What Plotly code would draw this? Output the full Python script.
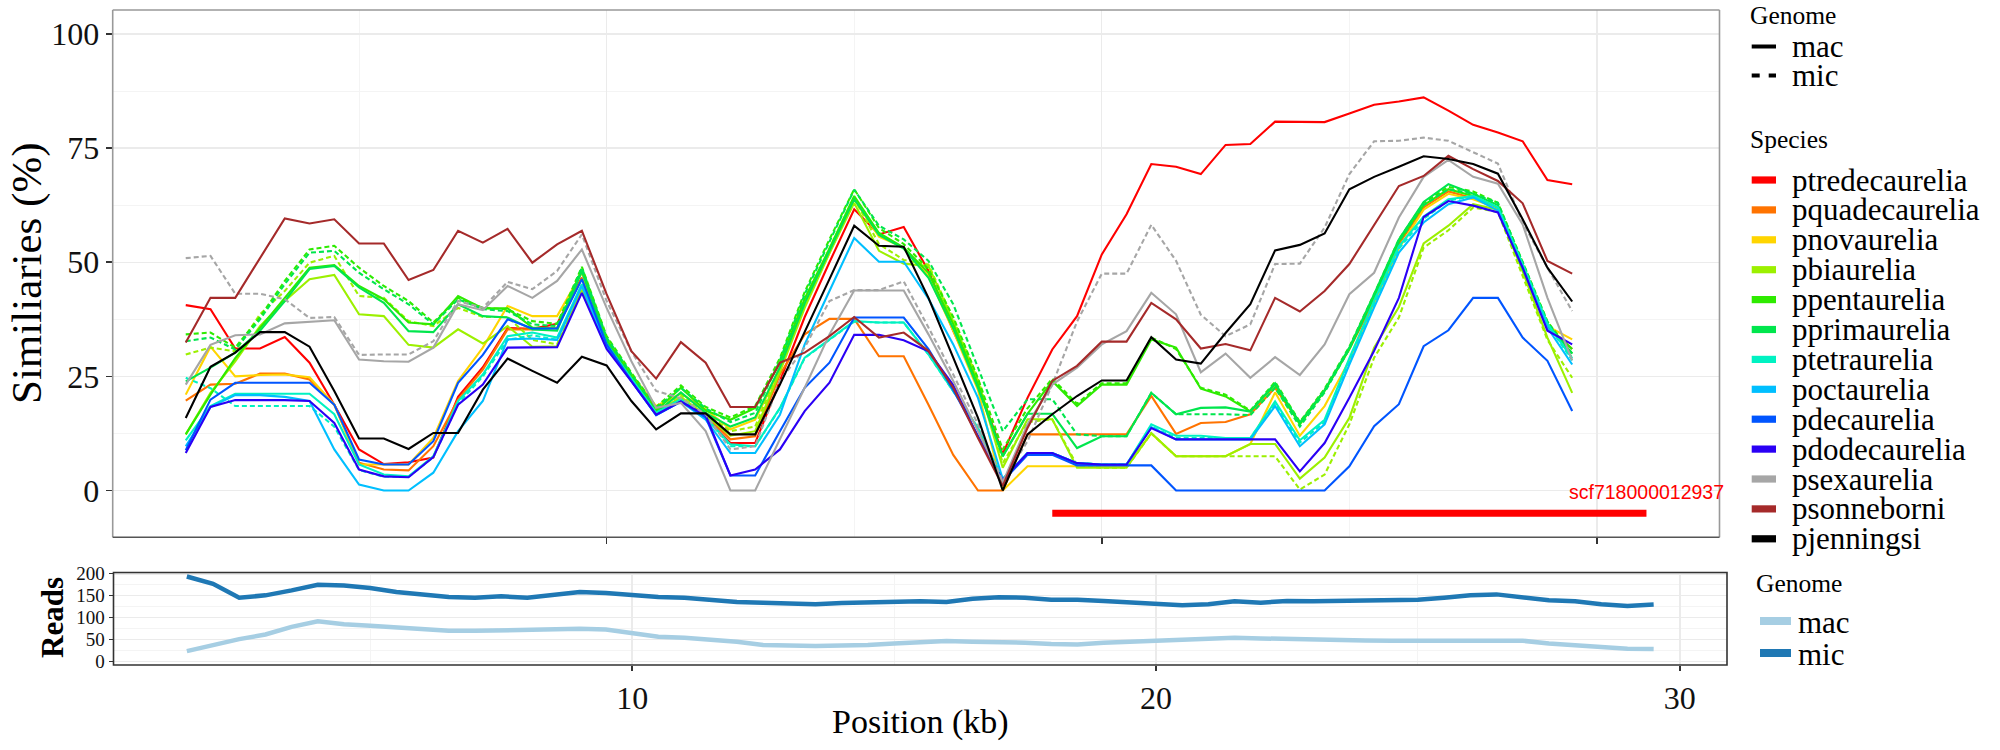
import plotly.graph_objects as go

W, H = 2000, 750
SERIF = "Liberation Serif"
SANS = "Liberation Sans"

# ---------------- data ----------------
position_kb = [1.5, 2, 2.5, 3, 3.5, 4, 4.5, 5, 5.5, 6, 6.5, 7, 7.5, 8, 8.5, 9, 9.5, 10, 10.5,
               11, 11.5, 12, 12.5, 13, 13.5, 14, 14.5, 15, 15.5, 16, 16.5, 17, 17.5, 18, 18.5,
               19, 19.5, 20, 20.5, 21, 21.5, 22, 22.5, 23, 23.5, 24, 24.5, 25, 25.5, 26, 26.5,
               27, 27.5, 28, 28.5, 29, 29.5]

species = ["ptredecaurelia", "pquadecaurelia", "pnovaurelia", "pbiaurelia", "ppentaurelia",
           "pprimaurelia", "ptetraurelia", "poctaurelia", "pdecaurelia", "pdodecaurelia",
           "psexaurelia", "psonneborni", "pjenningsi"]

species_colors = ["#FF0000", "#FF7300", "#FFD500", "#9CF000", "#2EEB00",
                  "#00E64D", "#00F2C2", "#00BFFF", "#0055FF", "#2A00F5",
                  "#A6A6A6", "#A52A2A", "#000000"]

ptredecaurelia_mac = [40.6, 39.7, 31.1, 31.1, 33.6, 28.0, 18.8, 9.0, 5.8, 6.2,
                      7.2, 20.5, 27.0, 35.6, 35.4, 36.5, 46.6, 32.7, 25.4, 17.8,
                      19.6, 15.9, 10.4, 10.4, 24.0, 38.0, 50.0, 61.6, 56.1, 57.7,
                      48.1, 35.0, 23.2, 8.0, 20.3, 30.9, 38.2, 51.7, 60.5, 71.5,
                      70.9, 69.3, 75.7, 75.9, 80.8, 80.8, 80.7, 82.6, 84.5, 85.2,
                      86.1, 83.2, 80.1, 78.4, 76.5, 68.0, 67.1]
pquadecaurelia_mac = [19.7, 23.2, 23.4, 25.6, 25.6, 24.3, 18.8, 6.1, 4.6, 4.4,
                      9.7, 19.9, 26.5, 35.3, 35.3, 35.6, 46.5, 32.5, 25.0, 17.5,
                      20.0, 16.5, 11.2, 11.9, 25.4, 34.2, 37.6, 37.6, 29.4, 29.4,
                      18.8, 7.8, 0.0, 0.0, 12.3, 12.3, 12.3, 12.3, 12.3, 20.7,
                      12.4, 14.8, 15.0, 16.7, 22.5, 14.8, 22.0, 31.0, 41.5, 54.0,
                      62.0, 65.5, 64.0, 62.0, 48.5, 36.0, 31.0]
pnovaurelia_mac = [21.0, 31.5, 25.0, 25.3, 25.4, 24.8, 18.8, 5.7, 5.7, 5.7,
                   11.5, 24.0, 31.3, 40.4, 38.2, 38.2, 47.7, 33.0, 25.5, 18.5,
                   21.2, 17.8, 13.4, 15.5, 26.5, 41.0, 52.0, 63.8, 55.6, 53.2,
                   47.0, 35.0, 22.0, 0.0, 5.3, 5.3, 5.3, 5.3, 5.3, 12.5,
                   7.5, 7.5, 7.5, 10.2, 21.5, 12.0, 18.5, 28.5, 41.0, 53.0,
                   61.5, 65.0, 63.8, 61.8, 48.5, 36.0, 33.1]
pbiaurelia_mac = [12.3, 21.4, 28.3, 36.0, 41.5, 46.3, 47.2, 38.6, 38.2, 31.9,
                  31.3, 35.3, 32.2, 36.0, 31.5, 31.6, 44.0, 32.0, 24.5, 17.0,
                  20.5, 16.5, 12.0, 13.0, 26.0, 40.0, 52.0, 63.0, 52.5, 49.7,
                  49.2, 37.0, 24.0, 5.0, 15.6, 15.6, 5.0, 5.0, 5.0, 12.6,
                  7.5, 7.5, 7.5, 10.2, 10.2, 2.6, 7.2, 15.9, 31.3, 40.2,
                  54.1, 58.0, 62.7, 61.5, 48.0, 33.5, 21.4]
ppentaurelia_mac = [12.3, 21.0, 29.0, 35.7, 42.2, 48.8, 49.4, 44.8, 41.9, 36.8,
                    36.4, 42.6, 39.9, 39.9, 35.7, 35.5, 48.5, 33.0, 25.0, 17.5,
                    22.5, 17.5, 15.5, 18.1, 28.0, 42.0, 53.0, 64.5, 56.4, 53.2,
                    47.7, 36.4, 23.2, 7.5, 16.8, 24.0, 18.5, 23.2, 23.2, 33.1,
                    31.3, 22.3, 20.6, 17.3, 23.2, 14.5, 21.8, 31.0, 42.5, 54.5,
                    62.5, 66.0, 64.5, 62.0, 48.5, 36.0, 31.0]
pprimaurelia_mac = [23.9, 26.9, 30.2, 35.0, 41.5, 48.5, 49.2, 44.5, 41.1, 34.9,
                    34.7, 40.8, 38.2, 37.9, 35.3, 35.0, 48.0, 32.5, 24.5, 17.0,
                    21.5, 17.0, 14.0, 16.0, 27.0, 41.0, 52.5, 63.8, 56.0, 53.0,
                    46.6, 35.5, 22.5, 7.5, 16.8, 16.8, 9.3, 11.9, 11.9, 21.4,
                    16.7, 18.1, 18.2, 17.3, 23.5, 14.8, 22.0, 31.3, 43.0, 55.0,
                    63.2, 67.1, 65.0, 62.5, 49.0, 36.5, 30.0]
ptetraurelia_mac = [11.0, 18.5, 21.2, 21.2, 21.2, 21.2, 16.7, 5.7, 3.5, 3.1,
                    7.5, 19.6, 25.4, 33.8, 34.6, 33.5, 45.2, 32.0, 24.5, 17.0,
                    20.0, 16.0, 10.1, 9.7, 18.1, 29.1, 33.1, 37.1, 36.8, 36.8,
                    29.8, 21.8, 13.7, 2.5, 8.2, 8.2, 6.0, 5.7, 5.7, 14.5,
                    12.0, 12.0, 11.5, 11.5, 19.5, 11.0, 15.5, 29.0, 41.5, 53.5,
                    60.0, 63.8, 64.5, 62.0, 49.5, 36.5, 29.0]
poctaurelia_mac = [9.7, 18.3, 20.9, 20.9, 20.5, 19.6, 9.0, 1.3, 0.0, 0.0,
                   3.9, 13.0, 19.6, 33.1, 33.3, 33.0, 44.8, 31.5, 24.0, 16.5,
                   19.5, 15.5, 8.2, 8.2, 16.6, 32.0, 43.7, 55.3, 50.1, 50.1,
                   42.0, 32.0, 20.3, 2.5, 8.2, 8.2, 6.0, 5.7, 5.7, 13.9,
                   11.2, 11.2, 11.2, 11.2, 18.5, 9.7, 14.5, 27.6, 40.1, 52.1,
                   58.7, 62.7, 64.2, 61.3, 48.8, 35.7, 27.6]
pdecaurelia_mac = [8.8, 19.9, 23.6, 23.6, 23.6, 23.6, 18.8, 6.8, 5.7, 5.7,
                   10.8, 23.6, 29.7, 37.5, 35.5, 35.5, 46.3, 32.0, 24.0, 16.5,
                   19.5, 16.0, 3.3, 3.3, 13.0, 22.5, 28.0, 37.9, 37.9, 37.9,
                   31.0, 22.0, 12.0, 2.0, 7.8, 7.8, 5.5, 5.5, 5.5, 5.5,
                   0.0, 0.0, 0.0, 0.0, 0.0, 0.0, 0.0, 5.3, 14.1, 18.9,
                   31.6, 35.1, 42.2, 42.2, 33.5, 28.4, 17.4]
pdodecaurelia_mac = [8.2, 18.3, 19.8, 19.8, 19.8, 19.6, 14.8, 4.6, 3.1, 2.9,
                     7.3, 18.8, 23.2, 31.3, 31.3, 31.4, 43.3, 31.0, 23.9, 16.6,
                     19.5, 16.5, 3.3, 4.6, 9.0, 17.4, 23.6, 34.1, 34.1, 32.9,
                     30.5, 23.1, 11.7, 2.3, 8.2, 8.2, 6.0, 5.7, 5.7, 13.7,
                     11.2, 11.2, 11.2, 11.2, 11.2, 4.2, 10.4, 20.3, 30.6, 42.2,
                     59.9, 63.4, 62.4, 60.9, 48.8, 35.0, 32.0]
psexaurelia_mac = [23.2, 31.9, 34.0, 34.2, 36.6, 36.9, 37.3, 28.7, 28.3, 28.2,
                   31.3, 40.8, 39.5, 44.8, 42.2, 45.9, 52.8, 40.0, 28.3, 18.1,
                   19.2, 13.0, 0.0, 0.0, 11.2, 22.5, 34.2, 43.8, 43.8, 43.8,
                   34.2, 24.0, 13.0, 1.7, 14.5, 23.2, 26.9, 32.0, 34.9, 43.3,
                   38.6, 25.9, 30.0, 24.7, 29.2, 25.3, 32.0, 43.0, 47.7, 59.8,
                   68.7, 72.4, 68.7, 67.2, 58.3, 42.2, 28.5]
psonneborni_mac = [32.4, 42.2, 42.2, 51.0, 59.6, 58.5, 59.4, 54.1, 54.1, 46.1,
                   48.3, 56.9, 54.3, 57.3, 49.9, 53.9, 56.9, 43.0, 30.5, 24.5,
                   32.5, 28.0, 18.3, 18.3, 28.0, 30.2, 33.8, 38.0, 33.5, 34.6,
                   30.6, 22.5, 11.5, 1.0, 13.7, 24.0, 27.3, 32.6, 32.6, 41.1,
                   37.5, 31.1, 32.1, 30.7, 42.2, 39.2, 43.7, 49.6, 58.0, 66.7,
                   68.9, 73.3, 70.4, 67.8, 62.9, 50.3, 47.5]
pjenningsi_mac = [15.9, 27.1, 30.2, 34.7, 34.7, 31.5, 21.8, 11.4, 11.4, 9.1,
                  12.6, 12.6, 22.1, 28.9, 26.2, 23.6, 29.3, 27.4, 19.6, 13.4,
                  16.9, 16.9, 12.3, 12.3, 23.2, 34.6, 46.3, 58.0, 53.6, 53.4,
                  42.2, 29.1, 15.9, 0.0, 12.3, 16.7, 20.7, 24.1, 24.1, 33.6,
                  28.7, 27.8, 34.5, 40.8, 52.6, 53.8, 56.3, 66.0, 68.7, 70.9,
                  73.2, 72.6, 71.5, 69.4, 59.4, 48.8, 41.4]

# micronuclear (dashed) series
pbiaurelia_mic = [29.8, 31.3, 30.5, 38.6, 43.7, 49.9, 51.4, 42.6, 42.2, 37.1,
                  36.0, 40.0, 38.0, 38.0, 33.0, 32.0, 45.0, 32.5, 25.0, 17.5,
                  21.0, 17.0, 13.0, 14.0, 27.0, 41.0, 53.0, 64.0, 54.0, 50.5,
                  49.5, 37.5, 24.5, 6.0, 15.0, 15.6, 5.5, 5.0, 5.0, 12.5,
                  7.5, 7.5, 7.5, 7.5, 7.5, 0.2, 3.5, 14.5, 29.1, 37.9,
                  53.2, 57.0, 62.0, 61.0, 47.0, 33.0, 24.7]
ppentaurelia_mic = [34.2, 34.6, 31.3, 38.0, 45.9, 52.8, 53.6, 48.8, 44.8, 41.5,
                    36.8, 42.2, 40.0, 39.7, 37.1, 36.5, 49.0, 33.8, 25.8, 18.3,
                    23.0, 18.3, 16.0, 18.5, 29.0, 43.5, 55.0, 66.0, 57.5, 54.0,
                    48.5, 38.0, 24.5, 9.0, 18.0, 24.5, 19.0, 23.5, 23.5, 33.5,
                    31.0, 22.5, 21.0, 17.5, 23.8, 15.0, 22.3, 31.5, 43.0, 55.0,
                    63.0, 66.5, 65.5, 63.0, 50.0, 37.0, 30.0]
pprimaurelia_mic = [32.7, 33.5, 30.9, 37.5, 45.2, 52.1, 52.5, 47.7, 44.1, 40.8,
                    36.4, 41.9, 39.7, 39.3, 36.4, 36.0, 48.8, 33.5, 25.5, 18.0,
                    22.5, 18.0, 15.0, 17.0, 28.5, 43.0, 54.5, 65.9, 58.0, 55.0,
                    50.3, 40.8, 26.9, 13.0, 20.0, 20.0, 12.3, 11.9, 11.9, 21.4,
                    16.7, 16.7, 16.7, 16.5, 22.5, 14.0, 21.5, 31.0, 42.5, 54.5,
                    62.5, 66.0, 65.0, 63.0, 50.0, 37.0, 29.0]
ptetraurelia_mic = [24.7, 22.4, 18.5, 18.5, 18.5, 18.5, 14.0, 4.5, 3.0, 3.0,
                    7.3, 19.0, 25.0, 33.0, 34.0, 33.0, 45.0, 32.0, 24.5, 17.0,
                    20.0, 16.0, 9.7, 9.7, 18.0, 29.0, 33.0, 37.0, 36.8, 36.8,
                    29.8, 21.8, 13.7, 2.5, 8.2, 8.2, 6.0, 5.7, 5.7, 14.0,
                    11.5, 11.5, 11.5, 11.5, 19.0, 10.5, 15.0, 28.5, 41.0, 53.0,
                    59.5, 63.5, 64.5, 62.0, 49.5, 36.5, 28.5]
psexaurelia_mic = [50.9, 51.4, 43.1, 43.1, 41.9, 37.8, 38.0, 29.7, 29.8, 29.8,
                   32.7, 41.5, 40.0, 45.7, 44.1, 48.1, 56.1, 41.5, 30.5, 21.8,
                   20.2, 16.7, 9.0, 9.7, 24.0, 31.3, 41.5, 43.9, 43.9, 45.8,
                   35.7, 25.4, 14.5, 2.0, 10.8, 23.2, 37.0, 47.5, 47.5, 58.2,
                   50.3, 38.5, 33.8, 36.4, 49.6, 49.7, 57.6, 69.3, 76.5, 76.6,
                   77.3, 76.6, 74.1, 71.6, 58.7, 48.8, 39.3]

# contig bar
contig_label = "scf718000012937"
contig_start_kb = 19.0
contig_end_kb = 31.0
contig_y = -5

# read depth panel
reads_mac = [24.2, 37.8, 51.4, 61.9, 79.3, 92.1, 85.3, 81.6, 77.8, 74.1,
             70.3, 70.3, 71.8, 71.8, 73.3, 74.8, 73.3, 65.8, 56.7, 54.5,
             50.7, 45.4, 37.8, 35.6, 35.6, 37.1, 37.8, 41.6, 45.4, 46.9,
             45.4, 44.5, 43.2, 40.1, 39.4, 43.2, 45.4, 47.7, 50.7, 52.2,
             54.5, 53.0, 51.4, 49.2, 49.2, 48.4, 47.7, 47.7, 49.2, 49.2,
             48.4, 47.7, 41.6, 37.1, 32.5, 29.5, 28.7]
reads_mic = [193.9, 177.3, 145.6, 151.0, 162.3, 175.1, 173.6, 167.6, 158.5, 152.5,
             147.2, 145.6, 148.7, 145.6, 151.0, 158.5, 156.2, 151.0, 147.2, 145.6,
             141.2, 135.9, 134.4, 132.1, 130.6, 133.6, 135.1, 136.6, 137.4, 135.9,
             143.4, 146.5, 145.6, 141.2, 141.2, 138.2, 135.1, 132.1, 128.4, 130.6,
             137.4, 134.4, 138.2, 137.4, 138.2, 141.2, 139.7, 141.2, 145.6, 151.0,
             153.2, 147.2, 139.7, 137.4, 130.6, 126.9, 129.9]
reads_genomes = ["mac", "mic"]
reads_colors = ["#A6CEE3", "#1F78B4"]

mac_series = [ptredecaurelia_mac, pquadecaurelia_mac, pnovaurelia_mac, pbiaurelia_mac,
              ppentaurelia_mac, pprimaurelia_mac, ptetraurelia_mac, poctaurelia_mac,
              pdecaurelia_mac, pdodecaurelia_mac, psexaurelia_mac, psonneborni_mac,
              pjenningsi_mac]
mic_series = {"pbiaurelia": pbiaurelia_mic, "ppentaurelia": ppentaurelia_mic,
              "pprimaurelia": pprimaurelia_mic, "ptetraurelia": ptetraurelia_mic,
              "psexaurelia": psexaurelia_mic}

# ---------------- geometry (pixels) ----------------
TOP_L, TOP_R, TOP_T, TOP_B = 112.7, 1719.5, 10.0, 537.3
BOT_L, BOT_R, BOT_T, BOT_B = 113.5, 1727.0, 572.5, 665.0


def fx(p):
    return p / W


def fy(p):
    return 1 - p / H


fig = go.Figure()

# top panel lines
for sp, col, vals in zip(species, species_colors, mac_series):
    if sp in mic_series:
        fig.add_trace(go.Scatter(x=position_kb, y=mic_series[sp], mode="lines",
                                 line=dict(color=col, width=2.1, dash="5px,3px"),
                                 xaxis="x", yaxis="y", hoverinfo="skip", showlegend=False))
    fig.add_trace(go.Scatter(x=position_kb, y=vals, mode="lines",
                             line=dict(color=col, width=2.1),
                             xaxis="x", yaxis="y", hoverinfo="skip", showlegend=False))

# contig bar
fig.add_trace(go.Scatter(x=[contig_start_kb, contig_end_kb], y=[contig_y, contig_y], mode="lines",
                         line=dict(color="#FF0000", width=7), xaxis="x", yaxis="y",
                         hoverinfo="skip", showlegend=False))

# reads panel
for g, col, vals in zip(reads_genomes, reads_colors, [reads_mac, reads_mic]):
    fig.add_trace(go.Scatter(x=position_kb, y=vals, mode="lines",
                             line=dict(color=col, width=4.5), xaxis="x2", yaxis="y2",
                             hoverinfo="skip", showlegend=False))

grid_major = "#EBEBEB"
grid_minor = "#F4F4F4"

fig.update_layout(
    template="none",
    width=W, height=H,
    margin=dict(l=0, r=0, t=0, b=0, pad=0, autoexpand=False),
    paper_bgcolor="white", plot_bgcolor="white",
    showlegend=False,
    xaxis=dict(domain=[fx(TOP_L), fx(TOP_R)], range=[0.025, 32.475], anchor="y",
               automargin=False,
               tickmode="array", tickvals=[10, 20, 30], showticklabels=False,
               ticks="outside", ticklen=6, tickwidth=1.5, tickcolor="#333333",
               showgrid=True, gridcolor=grid_major, gridwidth=1.4, zeroline=False,
               showline=False,
               minor=dict(tickmode="array", tickvals=[5, 15, 25], showgrid=True,
                          gridcolor=grid_minor, gridwidth=1, ticks="")),
    yaxis=dict(domain=[fy(TOP_B), fy(TOP_T)], range=[-10.25, 105.25], anchor="x",
               automargin=False,
               tickmode="array", tickvals=[0, 25, 50, 75, 100],
               ticktext=["0", "25", "50", "75", "100"],
               ticks="outside", ticklen=6, tickwidth=1.5, tickcolor="#333333",
               tickfont=dict(family=SERIF, size=32, color="#111111"),
               showgrid=True, gridcolor=grid_major, gridwidth=1.4, zeroline=False,
               showline=False,
               minor=dict(tickmode="array", tickvals=[12.5, 37.5, 62.5, 87.5], showgrid=True,
                          gridcolor=grid_minor, gridwidth=1, ticks="")),
    xaxis2=dict(domain=[fx(BOT_L), fx(BOT_R)], range=[0.1, 30.9], anchor="y2",
                automargin=False,
                tickmode="array", tickvals=[10, 20, 30], ticktext=["10", "20", "30"],
                ticks="outside", ticklen=5, tickwidth=1.5, tickcolor="#333333",
                tickfont=dict(family=SERIF, size=32, color="#111111"),
                showgrid=True, gridcolor=grid_major, gridwidth=1.4, zeroline=False,
                showline=False,
                minor=dict(tickmode="array", tickvals=[5, 15, 25], showgrid=True,
                           gridcolor=grid_minor, gridwidth=1, ticks="")),
    yaxis2=dict(domain=[fy(BOT_B), fy(BOT_T)], range=[-7.5, 203], anchor="x2",
                automargin=False,
                tickmode="array", tickvals=[0, 50, 100, 150, 200],
                ticktext=["0", "50", "100", "150", "200"],
                ticks="outside", ticklen=4, tickwidth=1.2, tickcolor="#333333",
                tickfont=dict(family=SERIF, size=19, color="#111111"),
                showgrid=True, gridcolor=grid_major, gridwidth=1.4, zeroline=False,
                showline=False,
                minor=dict(tickmode="array", tickvals=[25, 75, 125, 175], showgrid=True,
                           gridcolor=grid_minor, gridwidth=1, ticks="")),
)

shapes = []
# top panel border
shapes.append(dict(type="line", xref="paper", yref="paper", x0=fx(TOP_L), x1=fx(TOP_R),
                   y0=fy(TOP_T), y1=fy(TOP_T), line=dict(color="#999999", width=1.6), layer="above"))
shapes.append(dict(type="line", xref="paper", yref="paper", x0=fx(TOP_L), x1=fx(TOP_L),
                   y0=fy(TOP_T), y1=fy(TOP_B), line=dict(color="#999999", width=1.6), layer="above"))
shapes.append(dict(type="line", xref="paper", yref="paper", x0=fx(TOP_R), x1=fx(TOP_R),
                   y0=fy(TOP_T), y1=fy(TOP_B), line=dict(color="#999999", width=1.6), layer="above"))
shapes.append(dict(type="line", xref="paper", yref="paper", x0=fx(TOP_L), x1=fx(TOP_R),
                   y0=fy(TOP_B), y1=fy(TOP_B), line=dict(color="#555555", width=1.6), layer="above"))
# bottom panel border
shapes.append(dict(type="rect", xref="paper", yref="paper", x0=fx(BOT_L), x1=fx(BOT_R),
                   y0=fy(BOT_B), y1=fy(BOT_T), line=dict(color="#333333", width=1.6),
                   fillcolor="rgba(0,0,0,0)", layer="above"))

annotations = []
# axis titles
annotations.append(dict(text="Similiaries (%)", xref="paper", yref="paper", x=fx(27), y=fy(273),
                        textangle=-90, showarrow=False, xanchor="center", yanchor="middle",
                        font=dict(family=SERIF, size=43, color="#000000")))
annotations.append(dict(text="<b>Reads</b>", xref="paper", yref="paper", x=fx(52), y=fy(618),
                        textangle=-90, showarrow=False, xanchor="center", yanchor="middle",
                        font=dict(family=SERIF, size=31, color="#000000")))
annotations.append(dict(text="Position (kb)", xref="paper", yref="paper", x=fx(920), y=fy(722),
                        showarrow=False, xanchor="center", yanchor="middle",
                        font=dict(family=SERIF, size=34, color="#000000")))
# contig label
annotations.append(dict(text=contig_label, xref="x", yref="y", x=contig_end_kb, y=-0.4,
                        showarrow=False, xanchor="center", yanchor="middle",
                        font=dict(family=SANS, size=19.5, color="#FF0000")))

# ---- legend: Genome (linetype) ----
KEY_X0, KEY_X1, LAB_X = 1751.7, 1776.0, 1790.0
annotations.append(dict(text="Genome", xref="paper", yref="paper", x=fx(1748), y=fy(16),
                        showarrow=False, xanchor="left", yanchor="middle",
                        font=dict(family=SERIF, size=25.5, color="#000000")))
genome_keys = [("mac", 46.5, None), ("mic", 75.5, "8px,9px")]
for lab, yy, dash in genome_keys:
    shapes.append(dict(type="line", xref="paper", yref="paper", x0=fx(KEY_X0), x1=fx(KEY_X1),
                       y0=fy(yy), y1=fy(yy), line=dict(color="#000000", width=4, dash=dash or "solid")))
    annotations.append(dict(text=lab, xref="paper", yref="paper", x=fx(LAB_X), y=fy(yy),
                            showarrow=False, xanchor="left", yanchor="middle",
                            font=dict(family=SERIF, size=31, color="#000000")))

# ---- legend: Species (colour) ----
annotations.append(dict(text="Species", xref="paper", yref="paper", x=fx(1748), y=fy(140),
                        showarrow=False, xanchor="left", yanchor="middle",
                        font=dict(family=SERIF, size=25.5, color="#000000")))
for i, (sp, col) in enumerate(zip(species, species_colors)):
    yy = 180 + 29.9 * i
    shapes.append(dict(type="rect", xref="paper", yref="paper", x0=fx(KEY_X0), x1=fx(KEY_X1),
                       y0=fy(yy + 3.6), y1=fy(yy - 3.6), line=dict(width=0), fillcolor=col))
    annotations.append(dict(text=sp, xref="paper", yref="paper", x=fx(LAB_X), y=fy(yy),
                            showarrow=False, xanchor="left", yanchor="middle",
                            font=dict(family=SERIF, size=31, color="#000000")))

# ---- legend: reads Genome ----
annotations.append(dict(text="Genome", xref="paper", yref="paper", x=fx(1754), y=fy(583),
                        showarrow=False, xanchor="left", yanchor="middle",
                        font=dict(family=SERIF, size=25.5, color="#000000")))
for i, (g, col) in enumerate(zip(reads_genomes, reads_colors)):
    yy = 621 + 32 * i
    shapes.append(dict(type="rect", xref="paper", yref="paper", x0=fx(1760), x1=fx(1791),
                       y0=fy(yy + 4), y1=fy(yy - 4), line=dict(width=0), fillcolor=col))
    annotations.append(dict(text=g, xref="paper", yref="paper", x=fx(1796), y=fy(yy + 1),
                            showarrow=False, xanchor="left", yanchor="middle",
                            font=dict(family=SERIF, size=31, color="#000000")))

fig.update_layout(shapes=shapes, annotations=annotations)

fig.write_html("out.html",
               config={"displayModeBar": False, "staticPlot": True},
               post_script="document.body.style.margin='0px';document.body.style.padding='0px';"
                           "document.documentElement.style.overflow='hidden';")
